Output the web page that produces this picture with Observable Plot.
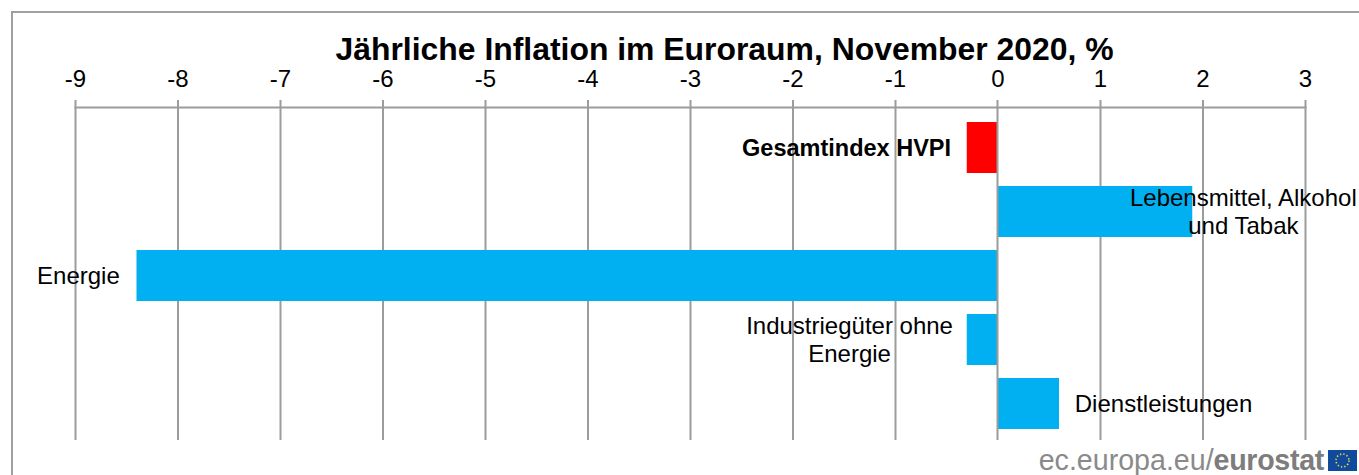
<!DOCTYPE html>
<html><head><meta charset="utf-8">
<script src="https://cdn.jsdelivr.net/npm/d3@7"></script>
<script src="https://cdn.jsdelivr.net/npm/@observablehq/plot@0.6"></script>
<style>
html,body{margin:0;padding:0;background:#fff;overflow:hidden}
#wrap{position:relative;width:1359px;height:475px;font-family:"Liberation Sans",Arial,sans-serif}
#box{position:absolute;left:11px;top:11px;width:1360px;height:480px;border:2px solid #a0a0a0;box-sizing:border-box}
#chart{position:absolute;left:0;top:0}
#chart svg{background:transparent}
#source{position:absolute;right:35px;top:445px;font-size:28.6px;line-height:30px;color:#8a8a8a;white-space:nowrap}
#source b{color:#7d7d7d;letter-spacing:-0.3px}
#flag{position:absolute;left:1328px;top:450px}
</style></head>
<body><div id="wrap"><div id="box"></div><div id="chart"></div>
<div id="source">ec.europa.eu/<b>eurostat</b></div>
<svg id="flag" width="29" height="21"><rect width="29" height="21" fill="#0f4a9c"/><circle cx="14.5" cy="10.5" r="6.5" fill="none" stroke="#e8d33a" stroke-width="1.6" stroke-dasharray="1.4 2"/></svg>
</div>
<script>
const categories = ["Gesamtindex HVPI","Lebensmittel, Alkohol\nund Tabak","Energie","Industriegüter ohne\nEnergie","Dienstleistungen"];
const values = [-0.3,1.9,-8.4,-0.3,0.6];
const kinds = ["total","part","part","part","part"];
const xTicks = [-9,-8,-7,-6,-5,-4,-3,-2,-1,0,1,2,3];
const title = "Jährliche Inflation im Euroraum, November 2020, %";
const rows = categories.map((category,i)=>({category,value:values[i],kind:kinds[i]}));
const gridColor = "#9c9c9c";
const label = (i,dx,extra={}) => Plot.text([rows[i]],{x:"value",y:"category",text:"category",dx,dy:-1,textAnchor:"middle",lineHeight:1.17,fill:"#000",fontSize:24,...extra});
const chart = Plot.plot({
  width:1359,height:475,
  marginTop:100,marginBottom:35,marginLeft:75,marginRight:54,
  style:{fontFamily:'"Liberation Sans",Arial,sans-serif',background:"transparent",overflow:"visible"},
  x:{domain:[-9,3]},
  y:{domain:categories,range:[115.5,435.5],paddingInner:0.2,paddingOuter:0.1,axis:null},
  color:{domain:["total","part"],range:["#ff0000","#00b0f0"]},
  marks:[
    Plot.ruleX(xTicks.filter(d=>d!==0),{stroke:gridColor,strokeWidth:2}),
    Plot.frame({anchor:"top",dy:7,stroke:gridColor,strokeWidth:2}),
    Plot.barX(rows,{x:"value",y:"category",fill:"kind"}),
    Plot.ruleX([0],{stroke:gridColor,strokeWidth:2,dx:-0.5}),
    Plot.axisX({anchor:"top",ticks:xTicks,tickFormat:d=>String(d),tickSize:0,tickPadding:14,fontSize:24,color:"#000",label:null}),
    label(0,-120.7,{fontWeight:"bold",fontSize:23.5}),
    label(1,50.6),
    label(2,-58.6),
    label(3,-117.7),
    label(4,104),
    Plot.text([title],{frameAnchor:"top",dy:-63,dx:34,fontSize:31.9,fontWeight:"bold",fill:"#000"})
  ]
});
document.getElementById("chart").appendChild(chart);
</script></body></html>
